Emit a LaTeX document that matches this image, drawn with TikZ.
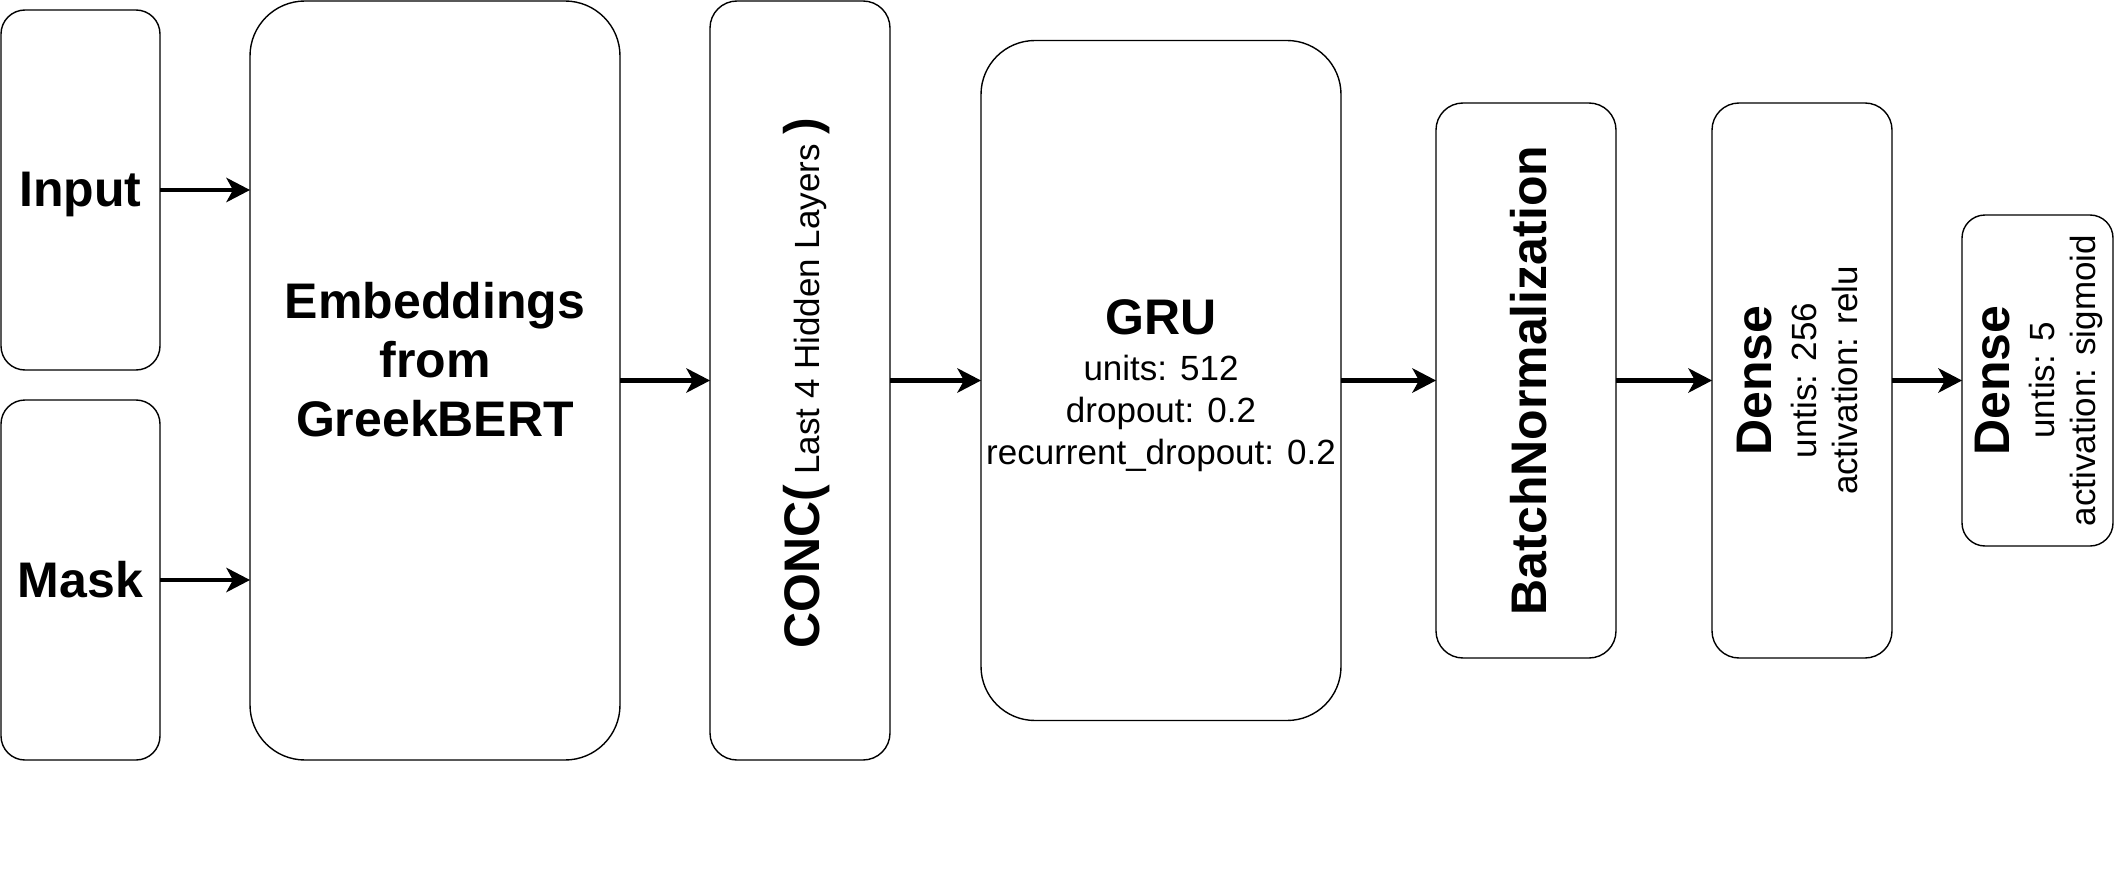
\documentclass[tikz,border=0pt]{standalone}
\usepackage{fontspec}
\setmainfont{Liberation Sans}
\usetikzlibrary{arrows.meta}
\begin{document}
\begin{tikzpicture}[x=1pt,y=-1pt,
  box/.style={draw=black, line width=1.4pt, inner sep=0pt, outer sep=0pt, fill=white},
  arr/.style={line width=4.5pt, -{Stealth[length=24pt,width=25pt,inset=7pt,line width=0pt]}},
  big/.style={font=\fontsize{50}{60}\selectfont\bfseries, inner sep=0pt, anchor=base},
  small/.style={font=\fontsize{35}{42}\selectfont, inner sep=0pt, anchor=base},
]
\useasboundingbox (0,0) rectangle (2128,896);

% boxes
\node[box, minimum width=159pt, minimum height=360pt, rounded corners=24pt] (inp) at (80.5,190) {};
\node[box, minimum width=159pt, minimum height=360pt, rounded corners=24pt] (mask) at (80.5,580) {};
\node[box, minimum width=370pt, minimum height=759pt, rounded corners=55pt] (emb) at (435,380.5) {};
\node[box, minimum width=180pt, minimum height=759pt, rounded corners=27pt] (conc) at (800,380.5) {};
\node[box, minimum width=360pt, minimum height=680pt, rounded corners=54pt] (gru) at (1161,380.5) {};
\node[box, minimum width=180pt, minimum height=555pt, rounded corners=27pt] (bn) at (1526,380.5) {};
\node[box, minimum width=180pt, minimum height=555pt, rounded corners=27pt] (dA) at (1802,380.5) {};
\node[box, minimum width=151pt, minimum height=331pt, rounded corners=23pt] (dB) at (2037.5,380.5) {};

% texts
\node[big] (tinp) at (80.5,207) {Input};
\node[big] (tmask) at (80.5,597) {Mask};
\node[big] (temb1) at (435,318) {Embeddings};
\node[big] (temb2) at (435,377) {from};
\node[big] (temb3) at (435,436) {GreekBERT};
\node[big, rotate=90] (tconc) at (819,383) {CONC(\fontsize{35}{42}\mdseries\selectfont\ Last 4 Hidden Layers\ \fontsize{50}{60}\bfseries\selectfont)};
\node[big] (tgru) at (1161,334) {GRU};
\node[small] (tgru1) at (1161,380) {units: 512};
\node[small] (tgru2) at (1161,422) {dropout: 0.2};
\node[small] (tgru3) at (1161,464) {recurrent\_dropout: 0.2};
\node[big, rotate=90] (tbn) at (1546,380.5) {BatchNormalization};
\node[big, rotate=90] (tdA) at (1771,380.5) {Dense};
\node[small, rotate=90] (tdA1) at (1816,380.5) {untis: 256};
\node[small, rotate=90] (tdA2) at (1857,380.5) {activation: relu};
\node[big, rotate=90] (tdB) at (2009,380.5) {Dense};
\node[small, rotate=90] (tdB1) at (2054,380.5) {untis: 5};
\node[small, rotate=90] (tdB2) at (2095,380.5) {activation: sigmoid};

% connectors
\draw[arr] (inp.east) -- (inp.east -| emb.west);
\draw[arr] (mask.east) -- (mask.east -| emb.west);
\draw[arr] (emb.east) -- (conc.west);
\draw[arr] (conc.east) -- (gru.west);
\draw[arr] (gru.east) -- (bn.west);
\draw[arr] (bn.east) -- (dA.west);
\draw[arr] (dA.east) -- (dB.west);
\end{tikzpicture}
\end{document}
